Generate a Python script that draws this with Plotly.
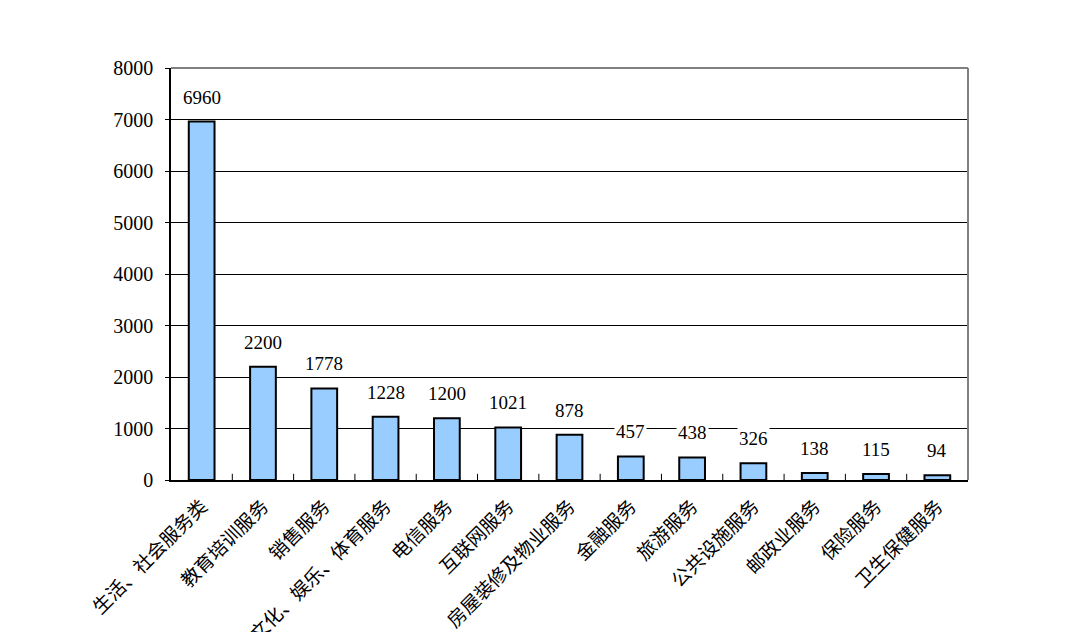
import plotly.graph_objects as go

categories = ["生活、社会服务类", "教育培训服务", "销售服务", "文化、娱乐、体育服务", "电信服务",
              "互联网服务", "房屋装修及物业服务", "金融服务", "旅游服务", "公共设施服务",
              "邮政业服务", "保险服务", "卫生保健服务"]
values = [6960, 2200, 1778, 1228, 1200, 1021, 878, 457, 438, 326, 138, 115, 94]
y_ticks = [0, 1000, 2000, 3000, 4000, 5000, 6000, 7000, 8000]

font_fam = "Liberation Serif, Noto Sans CJK SC, serif"

fig = go.Figure()
fig.add_trace(go.Bar(
    x=list(range(len(categories))), y=values,
    marker=dict(color="#99CCFF", line=dict(color="black", width=2)),
    width=0.42, hoverinfo="skip",
))

for i, v in enumerate(values):
    fig.add_annotation(x=i, y=v, text=str(v), showarrow=False, yanchor="bottom",
                       yshift=12, bgcolor="white", borderpad=1,
                       font=dict(family=font_fam, size=19, color="black"))

fig.update_layout(
    width=1059, height=624,
    margin=dict(l=163, r=99, t=60, b=152, autoexpand=False),
    paper_bgcolor="white", plot_bgcolor="white",
    showlegend=False,
    xaxis=dict(
        range=[-0.5, len(categories) - 0.5], automargin=False,
        tickmode="array", tickvals=list(range(len(categories))), ticktext=categories,
        tickangle=-45, tickfont=dict(family="Noto Sans CJK SC", size=19, color="black"),
        ticklabelstandoff=6,
        showgrid=False, showline=True, linecolor="black", linewidth=1.5,
        ticks="", mirror=False, zeroline=False,
    ),
    yaxis=dict(
        range=[0, 8000], tickvals=y_ticks, automargin=False,
        tickfont=dict(family=font_fam, size=20, color="black"),
        ticklabelstandoff=8,
        showgrid=True, gridcolor="black", gridwidth=1,
        showline=True, linecolor="black", linewidth=1.5,
        ticks="outside", ticklen=4, tickcolor="black", zeroline=False,
    ),
)
# category separator tick marks (inside, on x axis)
for k in range(len(categories) - 1):
    fig.add_shape(type="line", xref="x", yref="paper", x0=k + 0.5, x1=k + 0.5,
                  y0=0, y1=0.015, line=dict(color="black", width=1))
# gray top and right border
fig.add_shape(type="line", xref="paper", yref="paper", x0=0, x1=1, y0=1, y1=1,
              line=dict(color="#808080", width=2), layer="above")
fig.add_shape(type="line", xref="paper", yref="paper", x0=1, x1=1, y0=0, y1=1,
              line=dict(color="#808080", width=2), layer="above")

fig.write_html("out.html")
